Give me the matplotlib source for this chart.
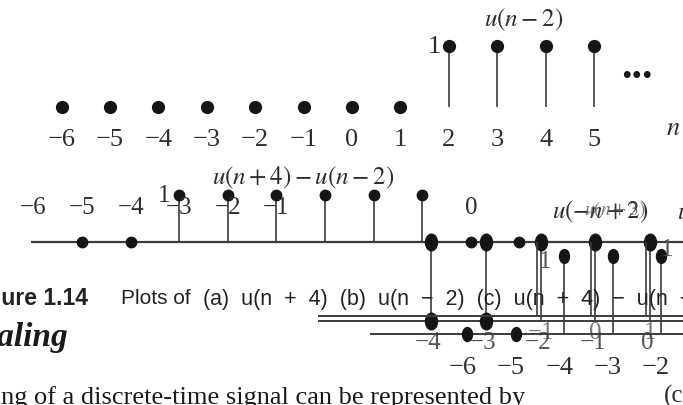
import numpy as np
import matplotlib
matplotlib.use("Agg")
import matplotlib.pyplot as plt
from matplotlib.path import Path
from matplotlib.transforms import Affine2D

# ---------------- data ----------------
# top panel: u(n-2)
top_n = [-6, -5, -4, -3, -2, -1, 0, 1, 2, 3, 4, 5]
top_vals = [0, 0, 0, 0, 0, 0, 0, 0, 1, 1, 1, 1]
top_tick_labels = ["−6", "−5", "−4", "−3", "−2", "−1", "0", "1", "2", "3", "4", "5"]

# middle panel: u(n+4) - u(n-2)
mid_n = [-5, -4, -3, -2, -1, 0, 1, 2, 3, 4]
mid_vals = [0, 0, 1, 1, 1, 1, 1, 1, 0, 0]
mid_label_pos = [-6, -5, -4, -3, -2, -1, 3]
mid_label_txt = ["−6", "−5", "−4", "−3", "−2", "−1", "0"]

# lower-right overlaid panel B
b_n = [-6, -5, -4, -3, -2]
b_vals = [0, 0, 1, 1, 1]
b_label_txt = ["−6", "−5", "−4", "−3", "−2"]

# lower-right overlaid panel C
c_n = [-4, -3, -2, -1, 0]
c_vals = [1, 1, 1, 1, 1]
c_zero_n = [-4, -3]
c_zero_vals = [0, 0]
c_label_txt = ["−4", "−3", "−2", "−1", "0"]
c_label2_pos = [-2, -1, 0]
c_label2_txt = ["−1", "0", "1"]
c2_n = [-2, -1, 0]
c2_vals = [1, 1, 1]

# ---------------- styling ----------------
W, H = 683, 406
plt.rcParams["mathtext.fontset"] = "stix"
SERIF = "Liberation Serif"
SANS = "Liberation Sans"
LINE = "#3c3c3c"
DOT = "#151515"
TXT = "#2e2e2e"

fig = plt.figure(figsize=(W / 100, H / 100), dpi=100)
fig.patch.set_facecolor("white")

ell = Path.unit_circle().transformed(Affine2D().scale(0.72, 1.0))


def layer(x0, dx, y_axis, h):
    """Full-figure axes: n -> pixel x0 + n*dx, value v -> pixel (from top) y_axis - v*h."""
    ax = fig.add_axes([0, 0, 1, 1])
    ax.set_axis_off()
    ax.patch.set_alpha(0)
    ax.set_xlim(-x0 / dx, (W - x0) / dx)
    yb = H - y_axis
    ax.set_ylim(-yb / h, (H - yb) / h)
    ax.px = lambda xp: (xp - x0) / dx
    ax.py = lambda yp: (y_axis - yp) / h
    return ax


def stems(ax, n, v, ms=8, marker="o", lw=1.2, dots=True):
    n = np.asarray(n, float)
    v = np.asarray(v, float)
    nz = v != 0
    ax.vlines(n[nz], 0, v[nz], color=LINE, lw=lw, zorder=2)
    if dots:
        ax.plot(n, v, ls="none", marker=marker, ms=ms, color=DOT, zorder=3)


def fig_text(xp, yp, s, **kw):
    fig.text(xp / W, 1 - yp / H, s, **kw)


# ---------- top panel ----------
a1 = layer(352, 48.4, 107.5, 60.5)
a1.annotate("", xy=(a1.px(686), 0), xytext=(a1.px(8), 0),
            arrowprops=dict(arrowstyle="-|>,head_length=0.75,head_width=0.32",
                            color=LINE, lw=1.6, mutation_scale=20, shrinkA=0, shrinkB=0))
stems(a1, top_n, top_vals, ms=8.5)
for n, t in zip(top_n, top_tick_labels):
    a1.text(n, a1.py(140), t, ha="center", va="center", fontsize=19,
            family=SERIF, color=TXT)
a1.text(a1.px(441), 1, "1", ha="right", va="center", fontsize=19, family=SERIF, color=TXT)
a1.text(a1.px(524), a1.py(20), r"$u(n-2)$", ha="center", va="center", fontsize=18, color=TXT)
a1.text(a1.px(637), a1.py(78), "...", ha="center", va="baseline", fontsize=30,
        family=SERIF, color=DOT, fontweight="bold")
a1.text(a1.px(673), a1.py(128), r"$n$", ha="center", va="center", fontsize=19, color=TXT)
a1.text(a1.px(350), a1.py(-4), "(a)", ha="center", va="bottom", fontsize=18,
        family=SERIF, color="#888888")

# ---------- middle panel ----------
a2 = layer(325, 48.6, 243, 47)
a2.hlines(0, a2.px(31), a2.px(690), color=LINE, lw=1.6, zorder=1)
stems(a2, mid_n, mid_vals, ms=7.5)
for n, t in zip(mid_label_pos, mid_label_txt):
    a2.text(n, a2.py(208), t, ha="center", va="center", fontsize=18,
            family=SERIF, color=TXT)
a2.text(a2.px(170), 1, "1", ha="right", va="center", fontsize=18, family=SERIF, color=TXT)
a2.text(a2.px(303), a2.py(178), r"$u(n+4) - u(n-2)$", ha="center", va="center",
        fontsize=18, color=TXT)
a2.text(a2.px(552), a2.py(212), r"$u(-n+2)$", ha="left", va="center", fontsize=18,
        color=TXT)
a2.text(a2.px(584), a2.py(210), r"$u(n+3)$", ha="left", va="center", fontsize=14,
        color="#555555", alpha=0.8)
a2.text(a2.px(677), a2.py(212), r"$u$", ha="left", va="center", fontsize=18, color=TXT)

# ---------- caption / body text ----------
fig_text(88, 299, "Figure 1.14", ha="right", va="center", fontsize=16.5,
         family=SANS, fontweight="bold", color="#222222")
fig_text(121, 299, "Plots of", ha="left", va="center", fontsize=15, family=SANS,
         color="#222222")
fig_text(203, 299, "(a)  u(n  +  4)  (b)  u(n  −  2)  (c)  u(n  +  4)  −  u(n  −  2)",
         ha="left", va="center", fontsize=15.5, family=SANS, color="#222222")
fig_text(68, 338, "Time Scaling", ha="right", va="center", fontsize=24, family=SERIF,
         fontweight="bold", style="italic", color="#1a1a1a")
fig_text(525, 398, "Time scaling of a discrete-time signal can be represented by",
         ha="right", va="center", fontsize=19, family=SERIF, color="#1a1a1a")

# ---------- lower overlaid panel C ----------
c1 = layer(650, 54.7, 322, 79)
c1.hlines(0, c1.px(318), c1.px(690), color=LINE, lw=1.4, zorder=1)
stems(c1, c_n, c_vals, ms=12, marker=ell, lw=1.2)
c1.plot(c_zero_n, c_zero_vals, ls="none", marker=ell, ms=12, color=DOT, zorder=3)
for n, t in zip(c_n, c_label_txt):
    c1.text(n - 0.05, c1.py(343), t, ha="center", va="center", fontsize=18,
            family=SERIF, color="#555555")
for n, t in zip(c_label2_pos, c_label2_txt):
    c1.text(n, c1.py(333), t, ha="center", va="center", fontsize=18,
            family=SERIF, color="#555555", alpha=0.8)
c1.text(c1.px(545), c1.py(262), "1", ha="center", va="center", fontsize=18,
        family=SERIF, color="#555555")

c2 = layer(646, 54.7, 317, 74)
c2.hlines(0, c2.px(318), c2.px(690), color=LINE, lw=1.4, zorder=1)
stems(c2, c2_n, c2_vals, lw=1.2, dots=False)

# ---------- lower overlaid panel B ----------
b1 = layer(758, 48.5, 335, 78)
b1.hlines(0, b1.px(370), b1.px(690), color=LINE, lw=1.4, zorder=1)
stems(b1, b_n, b_vals, ms=10, marker=ell, lw=1.2)
for n, t in zip(b_n, b_label_txt):
    b1.text(n - 0.1, b1.py(368), t, ha="center", va="center", fontsize=19,
            family=SERIF, color=TXT)
b1.text(b1.px(667), b1.py(250), "1", ha="center", va="center", fontsize=18,
        family=SERIF, color="#555555")
b1.text(b1.px(664), b1.py(396), "(c)", ha="left", va="center", fontsize=18,
        family=SERIF, color=TXT)

fig.savefig("out.png", dpi=100, facecolor="white")
